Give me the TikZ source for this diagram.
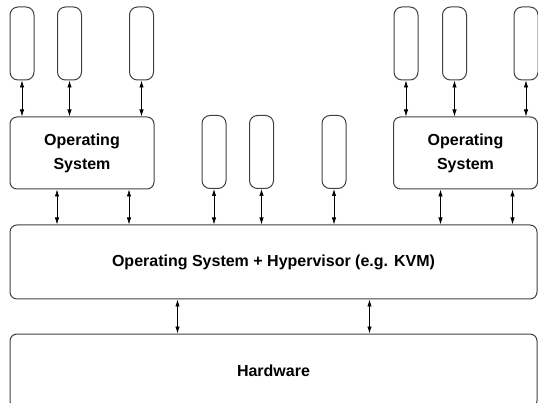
\documentclass[tikz,border=0pt]{standalone}
\usepackage{fontspec}
\setmainfont{Liberation Sans}
\usetikzlibrary{arrows.meta}
\begin{document}
\begin{tikzpicture}[x=1pt, y=-1pt,
                    every node/.style={draw=black!75, line width=1pt, rounded corners=7pt, inner sep=0pt,
                                       font=\fontsize{16}{24}\selectfont\bfseries, align=center},
                    app/.style={minimum width=24pt, minimum height=73pt, rounded corners=8pt},
                    os/.style={minimum width=144pt, minimum height=72pt},
                    layer/.style={minimum width=527pt, minimum height=74pt},
                    link/.style={{Latex[length=7pt,width=4.4pt]}-{Latex[length=7pt,width=4.4pt]}, line width=0.7pt}
                    ]
                    \useasboundingbox (0,0) rectangle (538,403);
                    \node[app] (a1) at (22,43.5) {};
                    \node[app] (a2) at (69.5,43.5) {};
                    \node[app] (a3) at (141.5,43.5) {};
                    \node[app] (a4) at (406,43.5) {};
                    \node[app] (a5) at (454.5,43.5) {};
                    \node[app] (a6) at (526,43.5) {};
                    \node[app] (m1) at (214,152) {};
                    \node[app] (m2) at (261.5,152) {};
                    \node[app] (m3) at (334,152) {};
                    \node[os] (os1) at (82,153) {Operating\\System};
                    \node[os] (os2) at (465.5,153) {Operating\\System};
                    \node[layer] (hyp) at (273.5,262) {Operating System + Hypervisor (e.g. KVM)};
                    \node[layer] (hw) at (273.5,371) {Hardware};

                    \foreach \i/\j in {a1/os1,a2/os1,a3/os1,a4/os2,a5/os2,a6/os2,m1/hyp,m2/hyp,m3/hyp}{
                        \draw[link] (\i.south) -- (\i.south |- \j.north);
                    }
                    \foreach \i in {os1,os2}{
                        \draw[link] ([xshift=-25pt]\i.south) -- ([xshift=-25pt]\i.south |- hyp.north);
                        \draw[link] ([xshift=47pt]\i.south) -- ([xshift=47pt]\i.south |- hyp.north);
                    }
                    \foreach \s in {-96,96}{
                        \draw[link] ([xshift=\s pt]hyp.south) -- ([xshift=\s pt]hyp.south |- hw.north);
                    }
                \end{tikzpicture}
\end{document}
